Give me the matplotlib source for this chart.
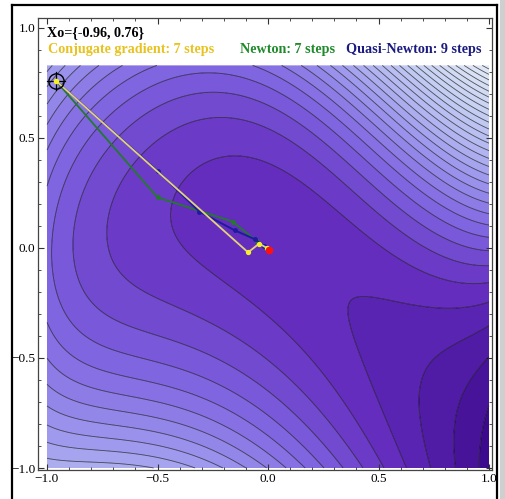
import numpy as np
import matplotlib
matplotlib.use("Agg")
import matplotlib.pyplot as plt
from matplotlib.ticker import MultipleLocator, FixedLocator
from matplotlib.lines import Line2D
from matplotlib.patches import Rectangle

# ---------------- data ----------------
# contour crossings (x, y) for each contour level
lvl_m3 = [(1, -0.66), (0.95, -0.80), (0.94, -1.0)]
lvl_m2 = [(1, -0.51), (0.89, -0.58), (0.855, -0.72), (0.87, -1.0)]
lvl_m1 = [(1, -0.40), (0.77, -0.445), (0.72, -0.58), (0.74, -0.76), (0.79, -1.0)]
lvl_0 = [(1, -0.28), (0.8, -0.272), (0.6, -0.265), (0.47, -0.27), (0.43, -0.30),
         (0.44, -0.38), (0.48, -0.54), (0.57, -0.77), (0.66, -1.0)]
lvl_1 = [(1, -0.13), (0.7, -0.06), (0.28, 0.17), (0.01, 0.39), (-0.13, 0.41),
         (-0.28, 0.40), (-0.40, 0.35), (-0.5, 0.245), (-0.52, 0.0), (-0.457, -0.082),
         (-0.25, -0.22), (0.0, -0.36), (0.245, -0.686), (0.5, -1.0)]
lvl_2 = [(1, -0.065), (0.74, 0.045), (0.28, 0.31), (0.0, 0.54),
         (-0.23, 0.57), (-0.43, 0.53), (-0.58, 0.43), (-0.68, 0.245), (-0.71, 0.0),
         (-0.67, -0.08), (-0.35, -0.34), (0.0, -0.53), (0.195, -0.765), (0.39, -1.0)]
lvl_3 = [(1, 0.0), (0.28, 0.43), (0.0, 0.67), (-0.19, 0.70), (-0.40, 0.65),
         (-0.58, 0.56), (-0.70, 0.44), (-0.8, 0.245), (-0.85, 0.0), (-0.82, -0.12),
         (-0.43, -0.39), (0.0, -0.64), (0.31, -1.0)]
lvl_4 = [(1, 0.06), (0.28, 0.545), (0.0, 0.77), (-0.19, 0.79), (-0.40, 0.745),
         (-0.58, 0.68), (-0.73, 0.59), (-0.85, 0.45), (-0.94, 0.245), (-0.98, 0.0),
         (-0.96, -0.15), (-0.5, -0.48), (0.0, -0.73), (0.23, -1.0)]
lvl_5 = [(1, 0.107), (0.28, 0.62), (0.0, 0.83), (-0.49, 0.82), (-0.64, 0.76),
         (-0.79, 0.67), (-0.91, 0.545), (-1, 0.35), (-1, -0.37), (-0.5, -0.58),
         (0.0, -0.81), (0.15, -1.0)]
lvl_6 = [(1, 0.153), (0.28, 0.70), (0.08, 0.83), (-0.67, 0.82), (-0.82, 0.73),
         (-0.94, 0.61), (-1, 0.44), (-1, -0.5), (-0.5, -0.70), (0.0, -0.90), (0.08, -1.0)]
lvl_7 = [(1, 0.197), (0.28, 0.745), (0.15, 0.83), (-0.77, 0.82), (-1, 0.54),
         (-1, -0.62), (-0.5, -0.80), (0.0, -1.0)]
lvl_8 = [(1, 0.241), (0.28, 0.795), (0.215, 0.83), (-0.86, 0.82), (-1, 0.62), (-1, -0.72),
         (-0.5, -0.87), (-0.07, -1.0)]
lvl_9 = [(1, 0.283), (0.272, 0.83), (-0.95, 0.83), (-1, 0.70), (-1, -0.80),
         (-0.5, -0.92), (-0.16, -1.0)]
lvl_10 = [(1, 0.323), (0.325, 0.83), (-1, 0.78), (-1, -0.88), (-0.29, -1.0)]
lvl_11 = [(1, 0.363), (0.374, 0.83), (-1, -0.95), (-0.5, -1.0)]
# levels 12..26 where they cross the top edge (x) and the right edge (y)
upper_levels = [12, 13, 14, 15, 16, 17, 18, 19, 20, 21, 22, 23, 24, 25, 26]
top_edge_x = [0.42, 0.465, 0.508, 0.55, 0.591, 0.631, 0.67, 0.708, 0.746,
              0.783, 0.82, 0.856, 0.892, 0.928, 0.964]
right_edge_y = [0.401, 0.438, 0.474, 0.509, 0.542, 0.574, 0.605, 0.635, 0.663,
                0.690, 0.716, 0.741, 0.765, 0.787, 0.808]
# spot values (x, y, level) inside bands
spot_pts = [(1, 0.83, 27.0), (-1, 0.83, 10.5), (-1, -1, 11.6), (1, -1, -3.6),
            (0.005, -0.01, 0.35), (0.25, -0.2, 0.55), (0.7, -0.2, 0.5),
            (0.42, -0.7, 0.5), (-1, 0.0, 4.15), (-0.2, 0.83, 4.4)]

contour_levels = list(range(-3, 28))
y_top = 0.83

# optimisation paths
cg_x = [-0.96, -0.09, -0.04, -0.005, 0.005]
cg_y = [0.76, -0.02, 0.02, 0.0, -0.01]
newton_x = [-0.96, -0.5, -0.16, -0.05, -0.01, 0.005]
newton_y = [0.76, 0.23, 0.12, 0.03, 0.0, -0.01]
qn_x = [-0.96, -0.5, -0.31, -0.15, -0.06, -0.02, 0.005]
qn_y = [0.76, 0.35, 0.165, 0.08, 0.04, 0.01, -0.01]
start = (-0.96, 0.76)
final = (0.005, -0.01)

title_txt = "Xo={-0.96, 0.76}"
legend_txt = ["Conjugate gradient: 7 steps", "Newton: 7 steps", "Quasi-Newton: 9 steps"]
legend_col = ["#E8C21E", "#1F8A2A", "#1A1A80"]

# ---------------- smooth surface fitted to the read crossings ----------------
pts = []
named = [(-3, lvl_m3), (-2, lvl_m2), (-1, lvl_m1), (0, lvl_0), (1, lvl_1), (2, lvl_2),
         (3, lvl_3), (4, lvl_4), (5, lvl_5), (6, lvl_6), (7, lvl_7), (8, lvl_8),
         (9, lvl_9), (10, lvl_10), (11, lvl_11)]
for lv, lst in named:
    for (x, y) in lst:
        pts.append((x, y, lv))
for lv, tx, ry in zip(upper_levels, top_edge_x, right_edge_y):
    pts.append((tx, y_top, lv))
    pts.append((1.0, ry, lv))
pts.extend(spot_pts)
P = np.array(pts, dtype=float)
px, py, pv = P[:, 0], P[:, 1], P[:, 2]


def basis(x, y):
    cols = [x ** i * y ** j for i in range(6) for j in range(6 - i)]
    E = np.exp(1.5 * (x + y))
    cols += [E, E * x, E * y]
    return np.column_stack(cols)


M = basis(px, py)
coef = np.linalg.solve(M.T @ M + 1e-6 * np.eye(M.shape[1]), M.T @ pv)

gx = np.linspace(-1, 1, 400)
gy = np.linspace(-1, y_top, 370)
GX, GY = np.meshgrid(gx, gy)
Z = (basis(GX.ravel(), GY.ravel()) @ coef).reshape(GX.shape)

# band colours
anc_lv = [-3.5, 0.5, 4, 8, 12, 18, 27]
anc_rgb = np.array([(60, 10, 140), (100, 45, 190), (125, 95, 222), (150, 140, 235),
                    (175, 178, 240), (198, 208, 243), (228, 236, 246)]) / 255.0
bounds = [-60] + contour_levels + [90]
mids = [-3.6] + [lv + 0.5 for lv in contour_levels]
band_cols = [tuple(np.interp(m, anc_lv, anc_rgb[:, c]) for c in range(3)) for m in mids]

# ---------------- figure ----------------
W, H = 505, 499
fig = plt.figure(figsize=(W / 100, H / 100), dpi=100)
fig.patch.set_facecolor("white")
ax = fig.add_axes([38 / W, 1 - 470 / H, (492 - 38) / W, (470 - 18) / H])
ax.set_facecolor("white")

ax.contourf(GX, GY, Z, levels=bounds, colors=band_cols, antialiased=True)
ax.contour(GX, GY, Z, levels=contour_levels, colors="black", linewidths=0.6,
           alpha=0.65, linestyles="solid")

ax.plot(newton_x, newton_y, "-", color="#237A2C", lw=1.3, zorder=4)
ax.plot(newton_x, newton_y, "o", color="#237A2C", ms=2.5, zorder=4)
ax.plot(qn_x, qn_y, "-", color="#1C1C9C", lw=1.4, zorder=5)
ax.plot(qn_x, qn_y, "o", color="#1C1C9C", ms=2.5, zorder=5)
ax.plot(cg_x, cg_y, "-", color="#E4D27A", lw=1.3, zorder=6)
ax.plot(cg_x, cg_y, "o", color="#F5F02A", ms=2.8, zorder=6)
ax.plot([final[0]], [final[1]], "o", color="#FF1010", ms=4.5, zorder=7)

# locator
ax.plot([start[0]], [start[1]], "o", ms=11, mfc="none", mec="black", mew=1.0, zorder=8)
ax.plot([start[0] - 0.04, start[0] + 0.04], [start[1], start[1]], color="black", lw=0.9, zorder=8)
ax.plot([start[0], start[0]], [start[1] - 0.04, start[1] + 0.04], color="black", lw=0.9, zorder=8)
ax.plot([start[0]], [start[1]], "o", ms=3, color="#F5F02A", zorder=9)

ax.set_xlim(-1 - 9 / 221, 1 + 3 / 221)
ax.set_ylim(-1 - 2 / 220.5, 1 + 10 / 220.5)
ax.xaxis.set_major_locator(FixedLocator([-1, -0.5, 0, 0.5, 1]))
ax.yaxis.set_major_locator(FixedLocator([-1, -0.5, 0, 0.5, 1]))
ax.xaxis.set_minor_locator(MultipleLocator(0.1))
ax.yaxis.set_minor_locator(MultipleLocator(0.1))
fmt = plt.FuncFormatter(lambda v, p: f"{v:.1f}".replace("-", "\u2212"))
ax.xaxis.set_major_formatter(fmt)
ax.yaxis.set_major_formatter(fmt)
ax.tick_params(which="both", direction="in", top=True, right=True, color="#333333")
ax.tick_params(which="major", length=4.2, width=0.8, labelsize=9.5, pad=2)
ax.tick_params(which="minor", length=2.3, width=0.6)
for lab in ax.get_xticklabels() + ax.get_yticklabels():
    lab.set_fontfamily("Liberation Serif")
for sp in ax.spines.values():
    sp.set_color("#444444")
    sp.set_linewidth(0.9)


def fig_text(xp, yp, s, color):
    fig.text(xp / W, 1 - yp / H, s, color=color, fontfamily="Liberation Serif",
             fontweight="bold", fontsize=10.2, va="center", ha="left")


fig_text(47, 33, title_txt, "black")
fig_text(48, 50, legend_txt[0], legend_col[0])
fig_text(240, 50, legend_txt[1], legend_col[1])
fig_text(346, 50, legend_txt[2], legend_col[2])

# outer frame
fig.add_artist(Line2D([12 / W, 12 / W], [0, 1 - 5 / H], color="black", lw=1.6))
fig.add_artist(Line2D([497 / W, 497 / W], [0, 1 - 5 / H], color="black", lw=1.6))
fig.add_artist(Line2D([12 / W, 497 / W], [1 - 5 / H, 1 - 5 / H], color="black", lw=1.6))
fig.add_artist(Rectangle((499.5 / W, 0), 6 / W, 1, transform=fig.transFigure,
                         facecolor="#cfcfcf", edgecolor="none"))

fig.savefig("out.png", dpi=100)
